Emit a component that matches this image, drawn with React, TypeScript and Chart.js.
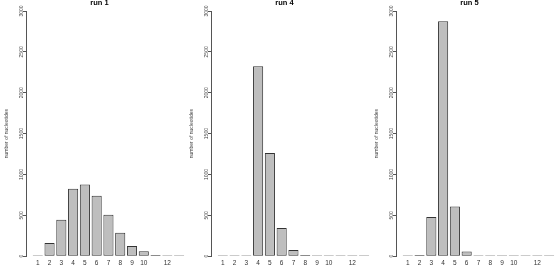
import { useEffect, useRef } from 'react';
import { Chart, registerables } from 'chart.js';

Chart.register(...registerables);

const categories = [1, 2, 3, 4, 5, 6, 7, 8, 9, 10, 11, 12, 13];
const xTickLabels = ['1', '2', '3', '4', '5', '6', '7', '8', '9', '10', '', '12', ''];
const yTicks = [0, 500, 1000, 1500, 2000, 2500, 3000];
const run1Values = [2, 163, 445, 825, 878, 739, 506, 286, 126, 61, 16, 3, 1];
const run4Values = [1, 1, 2, 2324, 1263, 346, 77, 16, 3, 1, 1, 1, 1];
const run5Values = [2, 16, 481, 2874, 607, 56, 2, 1, 1, 1, 1, 1, 1];
const panelTitles = ['run 1', 'run 4', 'run 5'];
const yAxisTitle = 'number of nucleotides';

const FONT = '"Liberation Sans", Arial, sans-serif';

function Panel({ title, values, left }: { title: string; values: number[]; left: number }) {
  const ref = useRef<HTMLCanvasElement>(null);
  useEffect(() => {
    const chart = new Chart(ref.current as HTMLCanvasElement, {
      type: 'bar',
      data: {
        datasets: [
          {
            data: categories.map((c, i) => ({ x: c, y: values[i] })),
            backgroundColor: '#bebebe',
            borderColor: '#333333',
            borderWidth: 1,
            borderSkipped: false,
            minBarLength: 1,
            categoryPercentage: 1,
            barPercentage: 0.86,
          } as any,
        ],
      },
      options: {
        animation: false,
        responsive: false,
        devicePixelRatio: 1,
        layout: { padding: { left: 14, right: 14, top: 0, bottom: -3 } },
        plugins: {
          legend: { display: false },
          tooltip: { enabled: false },
          title: {
            display: true,
            text: title,
            color: '#000',
            font: { family: FONT, size: 7.5, weight: 'bold', lineHeight: 0.9 },
            padding: { top: 0, bottom: 4.25 },
          },
        },
        scales: {
          x: {
            type: 'linear',
            min: 0,
            max: 13.5,
            bounds: 'data',
            offset: false,
            grid: { display: false, drawTicks: false },
            border: { display: false },
            afterBuildTicks: (s: any) => {
              s.ticks = categories.map((v) => ({ value: v }));
            },
            ticks: {
              autoSkip: false,
              maxRotation: 0,
              minRotation: 0,
              font: { family: FONT, size: 6.5 },
              color: '#333',
              padding: 3,
              callback: (_v: any, i: number) => xTickLabels[i],
            },
          },
          y: {
            min: 0,
            max: 3000,
            afterBuildTicks: (s: any) => {
              s.ticks = yTicks.map((v) => ({ value: v }));
            },
            afterFit: (s: any) => {
              s.width = 12;
            },
            grid: { drawOnChartArea: false, drawTicks: true, tickLength: 3, color: '#555' },
            border: { display: true, color: '#555' },
            ticks: {
              minRotation: 90,
              maxRotation: 90,
              crossAlign: 'center',
              padding: -4,
              autoSkip: false,
              font: { family: FONT, size: 5 },
              color: '#444',
              callback: (v: any) => String(v),
            },
            title: {
              display: true,
              text: yAxisTitle,
              font: { family: FONT, size: 5 },
              color: '#444',
              padding: { top: -10, bottom: 0 },
            },
          },
        },
      } as any,
    });
    return () => chart.destroy();
  }, [title, values]);
  return (
    <div style={{ position: 'absolute', left, top: 0, width: 199, height: 267 }}>
      <canvas ref={ref} width={199} height={267} style={{ width: 199, height: 267, display: 'block' }} />
    </div>
  );
}

export default function App() {
  const series = [run1Values, run4Values, run5Values];
  return (
    <div
      style={{
        position: 'fixed',
        left: 0,
        top: 0,
        width: 556,
        height: 267,
        overflow: 'hidden',
        background: '#fff',
      }}
    >
      {series.map((vals, i) => (
        <Panel key={i} title={panelTitles[i]} values={vals} left={i * 185} />
      ))}
    </div>
  );
}
